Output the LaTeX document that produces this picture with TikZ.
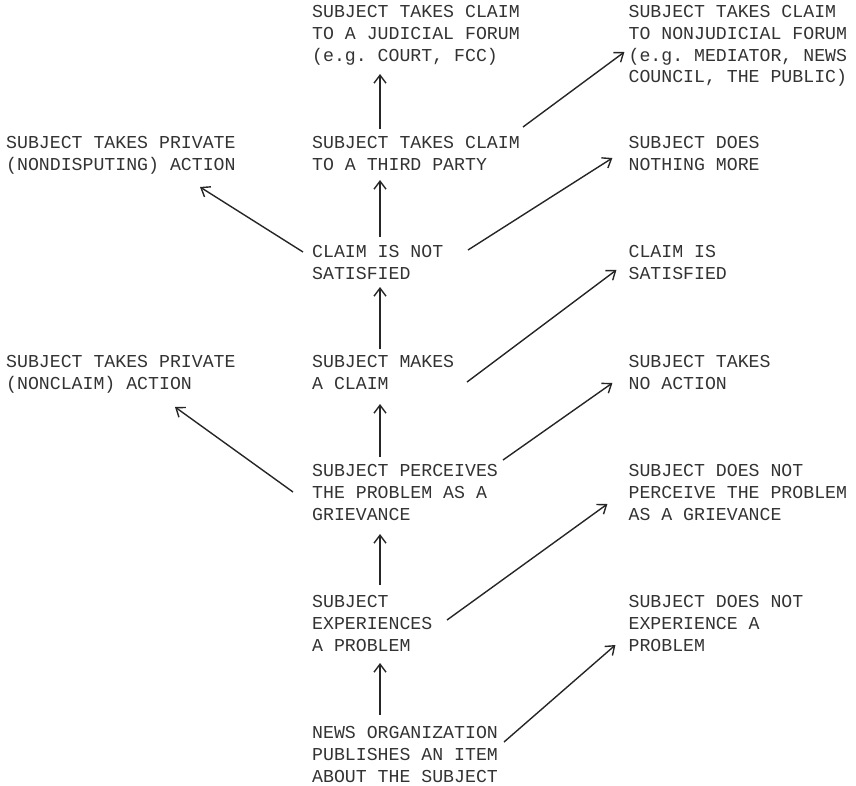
\documentclass[tikz,border=0pt]{standalone}
\usepackage{fontspec}
\setmonofont{Liberation Mono}
\usetikzlibrary{arrows.meta}

\tikzset{
    txt/.style={anchor=north west, inner sep=0pt, align=left, text=black!80,
        font=\ttfamily\fontsize{18.2}{21.85}\selectfont},
    arr/.style={-{Straight Barb[length=8pt,width=12pt]}, line width=1.4pt, draw=black!85}
}

\begin{document}
\begin{tikzpicture}[x=1pt,y=-1pt]
            \useasboundingbox (0,0) rectangle (856,786);

            \node[txt] (tj) at (312,5) {SUBJECT TAKES CLAIM\\TO A JUDICIAL FORUM\\(e.g. COURT, FCC)};
            \node[txt] (tn) at (628.4,5) {SUBJECT TAKES CLAIM\\TO NONJUDICIAL FORUM\\(e.g. MEDIATOR, NEWS\\COUNCIL, THE PUBLIC)};
            \node[txt] (pd) at (6,136) {SUBJECT TAKES PRIVATE\\(NONDISPUTING) ACTION};
            \node[txt] (tp) at (312,136) {SUBJECT TAKES CLAIM\\TO A THIRD PARTY};
            \node[txt] (nm) at (628.4,136) {SUBJECT DOES\\NOTHING MORE};
            \node[txt] (ns) at (312,245) {CLAIM IS NOT\\SATISFIED};
            \node[txt] (cs) at (628.4,245) {CLAIM IS\\SATISFIED};
            \node[txt] (pn) at (6,355) {SUBJECT TAKES PRIVATE\\(NONCLAIM) ACTION};
            \node[txt] (mc) at (312,355) {SUBJECT MAKES\\A CLAIM};
            \node[txt] (na) at (628.4,355) {SUBJECT TAKES\\NO ACTION};
            \node[txt] (pg) at (312,464) {SUBJECT PERCEIVES\\THE PROBLEM AS A\\GRIEVANCE};
            \node[txt] (np) at (628.4,464) {SUBJECT DOES NOT\\PERCEIVE THE PROBLEM\\AS A GRIEVANCE};
            \node[txt] (ep) at (312,595) {SUBJECT\\EXPERIENCES\\A PROBLEM};
            \node[txt] (ne) at (628.4,595) {SUBJECT DOES NOT\\EXPERIENCE A\\PROBLEM};
            \node[txt] (no) at (312,726) {NEWS ORGANIZATION\\PUBLISHES AN ITEM\\ABOUT THE SUBJECT};

            % main line, straight up
            \draw[arr] ([shift={(68,-11)}]no.north west) to ([shift={(68,68)}]ep.north west);
            \draw[arr] ([shift={(68,-10)}]ep.north west) to ([shift={(68,70)}]pg.north west);
            \draw[arr] ([shift={(68,-7)}]pg.north west) to ([shift={(68,49)}]mc.north west);
            \draw[arr] ([shift={(68,-6)}]mc.north west) to ([shift={(68,42)}]ns.north west);
            \draw[arr] ([shift={(68,-8)}]ns.north west) to ([shift={(68,44)}]tp.north west);
            \draw[arr] ([shift={(68,-7)}]tp.north west) to ([shift={(68,69)}]tj.north west);

            % branches to the right
            \draw[arr] ([shift={(192,16)}]no.north west) to ([shift={(-13,50)}]ne.north west);
            \draw[arr] ([shift={(135,25)}]ep.north west) to ([shift={(-21,40)}]np.north west);
            \draw[arr] ([shift={(191,-4)}]pg.north west) to ([shift={(-16,28)}]na.north west);
            \draw[arr] ([shift={(155,27)}]mc.north west) to ([shift={(-12,25)}]cs.north west);
            \draw[arr] ([shift={(156,5)}]ns.north west) to ([shift={(-16,22)}]nm.north west);
            \draw[arr] ([shift={(211,-9)}]tp.north west) to ([shift={(-4,47)}]tn.north west);

            % branches to the left
            \draw[arr] ([shift={(-9,7)}]ns.north west) to ([shift={(194,51)}]pd.north west);
            \draw[arr] ([shift={(-19,28)}]pg.north west) to ([shift={(169,52)}]pn.north west);
        \end{tikzpicture}
\end{document}
